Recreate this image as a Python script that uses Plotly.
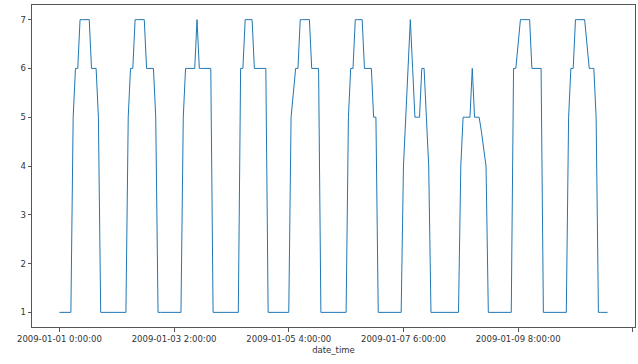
import plotly.graph_objects as go

# hourly readings, 2009-01-01 0:00 .. 2009-01-10 23:00
day1 = [1, 1, 1, 1, 1, 1, 5, 6, 6, 7, 7, 7, 7, 7, 6, 6, 6, 5, 1, 1, 1, 1, 1, 1]
day2 = [1, 1, 1, 1, 1, 1, 5, 6, 6, 7, 7, 7, 7, 7, 6, 6, 6, 6, 5, 1, 1, 1, 1, 1]
day3 = [1, 1, 1, 1, 1, 1, 5, 6, 6, 6, 6, 6, 7, 6, 6, 6, 6, 6, 6, 1, 1, 1, 1, 1]
day4 = [1, 1, 1, 1, 1, 1, 1, 6, 6, 7, 7, 7, 7, 6, 6, 6, 6, 6, 6, 1, 1, 1, 1, 1]
day5 = [1, 1, 1, 1, 1, 5, 5.5, 6, 6, 7, 7, 7, 7, 7, 6, 6, 6, 6, 1, 1, 1, 1, 1, 1]
day6 = [1, 1, 1, 1, 1, 1, 5, 6, 6, 7, 7, 7, 7, 6, 6, 6, 6, 5, 5, 1, 1, 1, 1, 1]
day7 = [1, 1, 1, 1, 1, 1, 4, 5, 6, 7, 6, 5, 5, 5, 6, 6, 5, 4, 1, 1, 1, 1, 1, 1]
day8 = [1, 1, 1, 1, 1, 1, 1, 4, 5, 5, 5, 5, 6, 5, 5, 5, 4.7, 4.3, 4, 1, 1, 1, 1, 1]
day9 = [1, 1, 1, 1, 1, 1, 6, 6, 6.5, 7, 7, 7, 7, 7, 6, 6, 6, 6, 6, 1, 1, 1, 1, 1]
day10 = [1, 1, 1, 1, 1, 1, 5, 6, 6, 7, 7, 7, 7, 7, 6.5, 6, 6, 6, 5, 1, 1, 1, 1, 1]

values = day1 + day2 + day3 + day4 + day5 + day6 + day7 + day8 + day9 + day10
positions = list(range(len(values)))

tick_positions = [0, 50, 100, 150, 200, 250]
tick_labels = ["2009-01-01 0:00:00", "2009-01-03 2:00:00", "2009-01-05 4:00:00",
               "2009-01-07 6:00:00", "2009-01-09 8:00:00", ""]
y_ticks = [1, 2, 3, 4, 5, 6, 7]

n = len(values)
pad_x = 0.05 * (n - 1)
ymin, ymax = min(values), max(values)
pad_y = 0.05 * (ymax - ymin)

fig = go.Figure()
fig.add_trace(go.Scatter(x=positions, y=values, mode="lines",
                         line=dict(color="#1f77b4", width=1)))

axis_common = dict(showline=True, mirror=True, linecolor="#555", linewidth=1,
                   ticks="outside", ticklen=3.5, tickcolor="#555", tickwidth=1,
                   showgrid=False, zeroline=False,
                   tickfont=dict(family="DejaVu Sans", size=8.5, color="#333"))

fig.update_layout(
    width=638, height=364, autosize=False,
    margin=dict(l=32, r=3, t=5, b=37),
    paper_bgcolor="white", plot_bgcolor="white",
    showlegend=False,
    xaxis=dict(range=[-pad_x, n - 1 + pad_x], tickmode="array",
               tickvals=tick_positions, ticktext=tick_labels,
               title=dict(text="date_time", standoff=4,
                          font=dict(family="DejaVu Sans", size=8.5, color="#333")),
               **axis_common),
    yaxis=dict(range=[ymin - pad_y, ymax + pad_y], tickmode="array",
               tickvals=y_ticks, **axis_common),
)

fig.write_html("out.html")
